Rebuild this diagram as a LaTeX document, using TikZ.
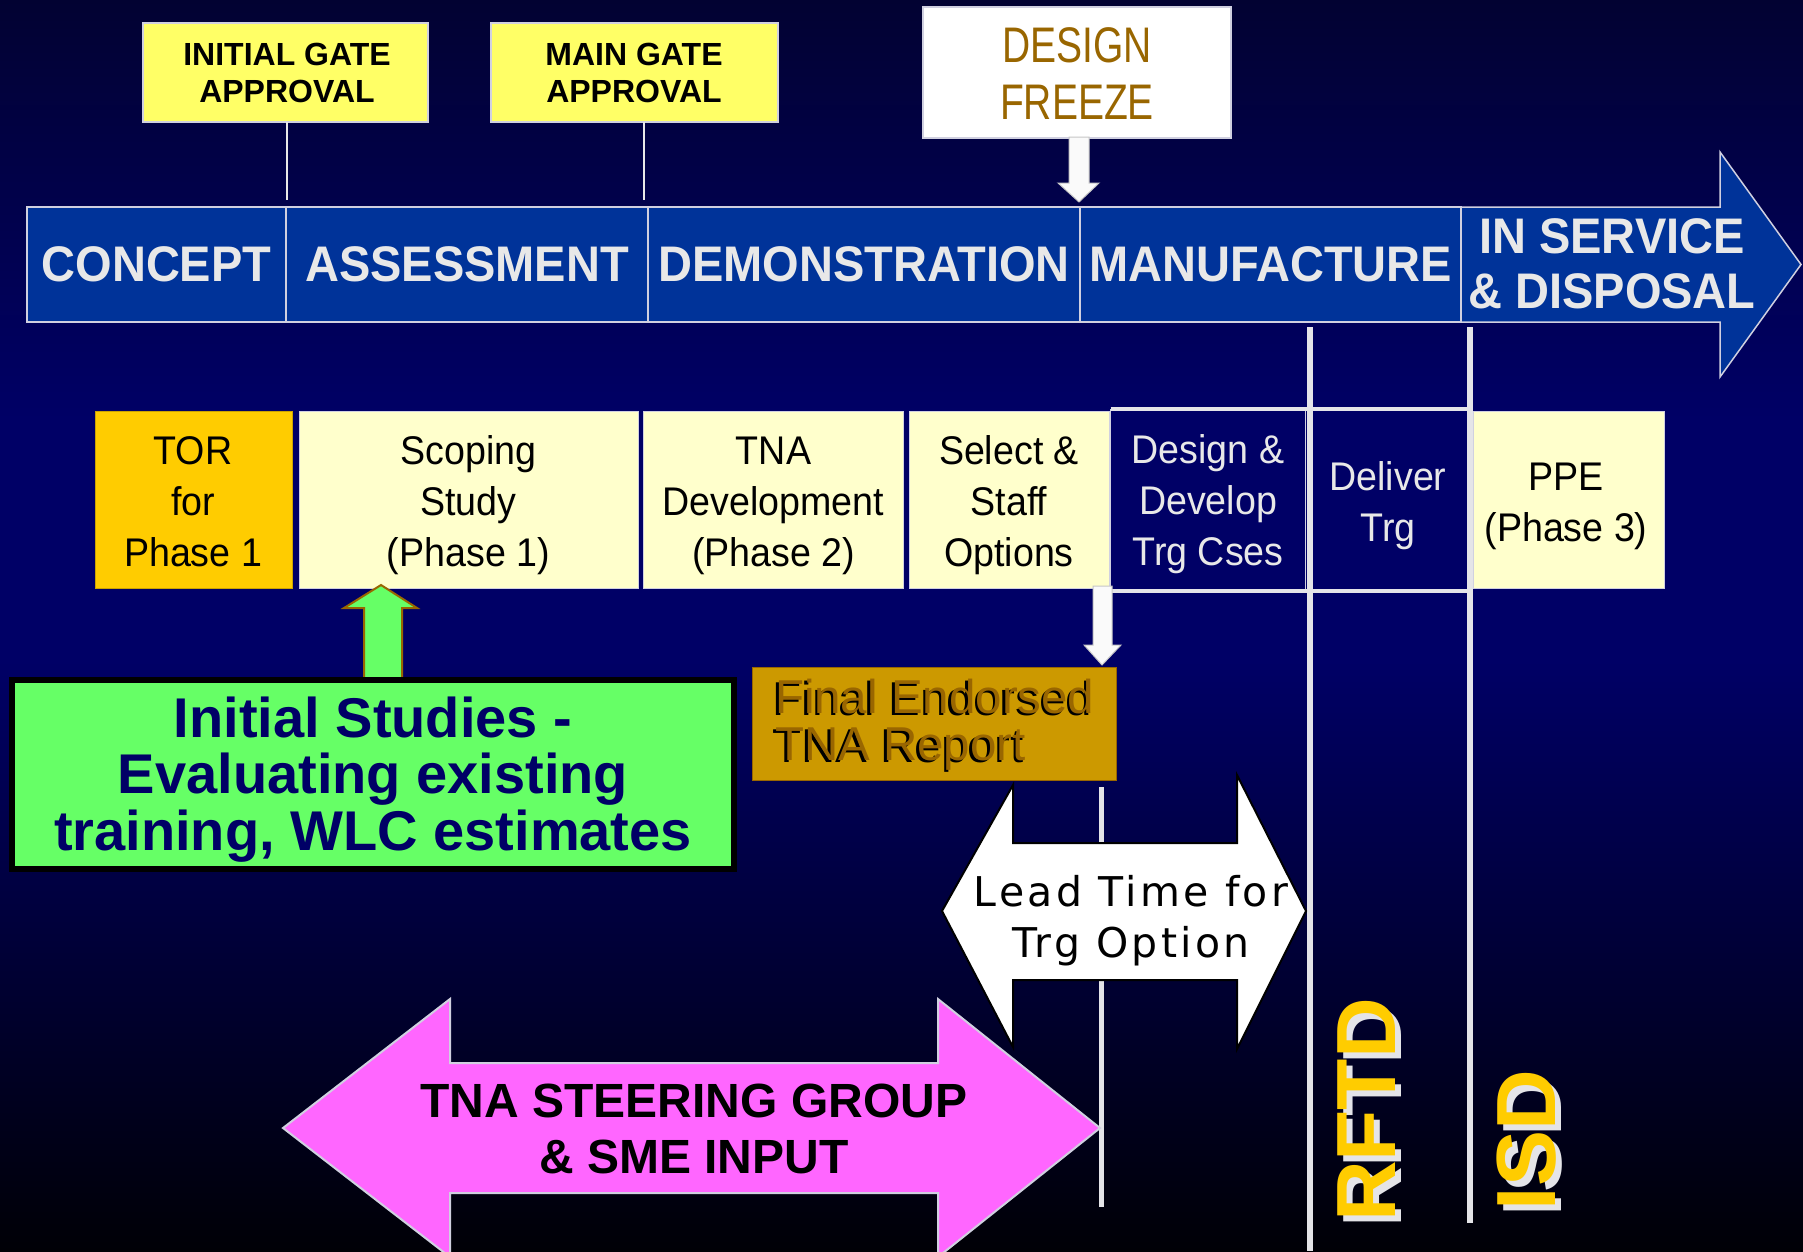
\documentclass[tikz,border=0pt]{standalone}
\usepackage{fontspec}
\setmainfont{Liberation Sans}
\newfontfamily\nsf[FakeStretch=0.94]{Liberation Sans}
\newfontfamily\csf[FakeStretch=0.78]{Liberation Sans}
\newfontfamily\vsf[LetterSpace=8]{DejaVu Sans}
\usetikzlibrary{calc}
\definecolor{bgtop}{RGB}{2,2,50}
\definecolor{bgmid}{RGB}{0,0,102}
\definecolor{bgbot}{RGB}{0,0,6}
\definecolor{barblue}{RGB}{0,51,153}
\definecolor{navycell}{RGB}{0,0,102}
\definecolor{linegrey}{RGB}{208,208,224}
\definecolor{textwhite}{RGB}{232,232,232}
\definecolor{gateyellow}{RGB}{255,255,102}
\definecolor{paleyellow}{RGB}{255,255,204}
\definecolor{torange}{RGB}{255,204,0}
\definecolor{finalgold}{RGB}{204,153,0}
\definecolor{brownt}{RGB}{153,102,0}
\definecolor{lgreen}{RGB}{102,255,102}
\definecolor{pinkm}{RGB}{255,102,255}
\definecolor{navytext}{RGB}{0,0,102}
\definecolor{gridgrey}{RGB}{228,228,232}
\newcommand\myrl[1]{\rule{0pt}{#1pt}}
\begin{document}
\begin{tikzpicture}[x=1pt,y=-1pt,
  every node/.style={inner sep=0pt, outer sep=0pt},
  gatebox/.style={draw=linegrey, line width=1.5pt, fill=gateyellow, minimum width=#1, minimum height=99pt},
  gatetext/.style={anchor=north, align=center, font=\bfseries\fontsize{32}{37}\selectfont},
  seg/.style={draw=linegrey, line width=1.5pt, fill=barblue, minimum height=115pt, minimum width=#1,
    text=textwhite, font=\nsf\bfseries\fontsize{50}{55}\selectfont},
  phase/.style={draw=linegrey, line width=1pt, fill=#1, minimum height=177pt},
  ptext/.style={anchor=north, align=center, font=\nsf\fontsize{40}{51}\selectfont},
  gline/.style={draw=textwhite, line width=2pt},
  vline/.style={draw=gridgrey, line width=6pt},
  hline/.style={draw=gridgrey, line width=4.5pt},
  whitearrow/.style={fill=white!96!gray, draw=gray!45, line width=1pt},
]
% background
\shade[top color=bgtop, bottom color=bgmid] (0,0) rectangle (1803,420);
\fill[bgmid] (0,419) rectangle (1803,661);
\shade[top color=bgmid, bottom color=bgbot] (0,660) rectangle (1803,1251);
\useasboundingbox (0,0) rectangle (1803,1251);

% gate boxes
\coordinate (g1end) at (287,200);
\coordinate (g2end) at (643.5,200);
\node[gatebox=285pt] (gate1) at (285.5,72.5) {};
\node[gatebox=287pt] (gate2) at (634.5,72.5) {};
\draw[gline] (gate1.south -| g1end) -- (g1end);
\draw[gline] (gate2.south -| g2end) -- (g2end);
\node[gatetext] (gate1t) at (287,41.5) {\myrl{23.5}INITIAL GATE\\APPROVAL};
\node[gatetext] (gate2t) at (634,41.5) {\myrl{23.5}MAIN GATE\\APPROVAL};

% design freeze
\node[draw=linegrey, line width=1.5pt, fill=white, minimum width=308pt, minimum height=131pt] (freeze) at (1077,72.5) {};
\node[anchor=north, align=center, text=brownt, font=\csf\fontsize{50}{57}\selectfont] (freezet) at (1077,26.5) {\myrl{35.5}DESIGN\\FREEZE};
\draw[whitearrow] (1069,137) -- (1089,137) -- (1089,183) -- (1099,183) -- (1079,202) -- (1058,183) -- (1069,183) -- cycle;

% phase bar
\node[seg=259pt] (concept) at (156.5,264.5) {CONCEPT};
\node[seg=362pt] (assess) at (467,264.5) {ASSESSMENT};
\node[seg=432pt] (demo) at (864,264.5) {DEMONSTRATION};
\node[seg=381pt] (manu) at (1270.5,264.5) {MANUFACTURE};
\draw[draw=linegrey, line width=1.5pt, fill=barblue] (manu.north east) -- (1720,207) -- (1720,152) -- (1801,264.5) -- (1720,377) -- (1720,322) -- (manu.south east) -- cycle;
\node[anchor=north, align=center, text=textwhite, font=\nsf\bfseries\fontsize{50}{55}\selectfont] (inservice) at (1612,217) {\myrl{36}IN SERVICE\\\& DISPOSAL};

% activity boxes
\node[phase=torange, draw=torange!80!black, minimum width=197pt] (tor) at (193.5,499.5) {};
\node[phase=paleyellow, minimum width=339pt] (scoping) at (468.5,499.5) {};
\node[phase=paleyellow, minimum width=260pt] (tnadev) at (773,499.5) {};
\node[phase=paleyellow, minimum width=200pt] (select) at (1009,499.5) {};
\node[phase=paleyellow, minimum width=191pt] (ppe) at (1568.5,499.5) {};
\node[draw=linegrey, line width=1pt, fill=navycell, minimum width=195pt, minimum height=182pt] (design) at (1208,500) {};
\node[fill=navycell, minimum width=157pt, minimum height=182pt] (deliver) at (1390,500) {};

% RFTD / ISD lines and grid
\coordinate (rftdtop) at (1310,327);
\coordinate (isdtop) at (1470,327);
\draw[vline] (rftdtop) -- (1310,1251);
\draw[vline] (isdtop) -- (1470,1223);
\draw[hline] (design.north west) -- (design.north west -| isdtop);
\draw[hline] (design.south west) -- (design.south west -| isdtop);

\node[ptext] (tort) at (193,434) {\myrl{30}TOR\\for\\Phase 1};
\node[ptext] (scopingt) at (468.5,434) {\myrl{30}Scoping\\Study\\(Phase 1)};
\node[ptext] (tnadevt) at (773.5,434) {\myrl{30}TNA\\Development\\(Phase 2)};
\node[ptext] (selectt) at (1009,434) {\myrl{30}Select \&\\Staff\\Options};
\node[ptext, text=textwhite] (designt) at (1208,433) {\myrl{30}Design \&\\Develop\\Trg Cses};
\node[ptext, text=textwhite] (delivert) at (1388,460) {\myrl{30}Deliver\\Trg};
\node[ptext] (ppet) at (1566,460) {\myrl{30}PPE\\(Phase 3)};

% select -> final endorsed
\draw[whitearrow] (1093,586) -- (1112,586) -- (1112,645) -- (1121,645) -- (1102,665) -- (1084,645) -- (1093,645) -- cycle;
\node[draw=brownt, line width=1pt, fill=finalgold, minimum width=364pt, minimum height=113pt] (final) at (934,723.5) {};
\node[anchor=north west, align=left, text=black, font=\fontsize{47.5}{47}\selectfont] (finalts) at (772.5,681) {\myrl{34.5}Final Endorsed\\TNA Report};
\node[anchor=north west, align=left, text=brownt, font=\fontsize{47.5}{47}\selectfont] (finalt) at (775,678.5) {\myrl{34.5}Final Endorsed\\TNA Report};

% lead time arrow
\coordinate (leadline) at (1101,787);
\draw[draw=gridgrey, line width=5pt] (leadline) -- (1101,1207);
\draw[fill=white, draw=black, line width=2pt, line join=miter]
  (942,911) -- (1013,785) -- (1013,843) -- (1237,843) -- (1237,775) -- (1306,911)
  -- (1237,1049) -- (1237,980) -- (1013,980) -- (1013,1047) -- cycle;
\node[anchor=north, align=center, text=black, font=\vsf\fontsize{41}{51}\selectfont] (leadt) at (1131,875) {\myrl{31}Lead Time for\\Trg Option};

% initial studies
\draw[fill=lgreen, draw=brownt, line width=2pt, line join=miter]
  (381,585) -- (417,608) -- (402,608) -- (402,681) -- (364,681) -- (364,608) -- (344,608) -- cycle;
\node[draw=black, line width=5.5pt, fill=lgreen, minimum width=722pt, minimum height=189pt] (initial) at (373,774.5) {};
\node[anchor=north, align=center, text=navytext, font=\bfseries\fontsize{56}{56.5}\selectfont] (initialt) at (373,695.5) {\myrl{41.5}Initial Studies -\\Evaluating existing\\training, WLC estimates};

% steering group arrow
\draw[fill=pinkm, draw=linegrey, line width=2pt, line join=miter]
  (283,1128) -- (450,999) -- (450,1063) -- (938,1063) -- (938,999) -- (1100,1128)
  -- (938,1257) -- (938,1193) -- (450,1193) -- (450,1257) -- cycle;
\node[anchor=north, align=center, text=black, font=\bfseries\fontsize{48}{56}\selectfont] (steert) at (694,1082) {\myrl{35}TNA STEERING GROUP\\\& SME INPUT};

% milestones
\node[rotate=90, anchor=base, text=gridgrey, font=\bfseries\fontsize{84}{84}\selectfont] (rftds) at (1401,1116) {RFTD};
\node[rotate=90, anchor=base, text=torange, font=\bfseries\fontsize{84}{84}\selectfont] (rftd) at (1395,1110) {RFTD};
\node[rotate=90, anchor=base, text=gridgrey, font=\bfseries\fontsize{84}{84}\selectfont] (isds) at (1561,1146) {ISD};
\node[rotate=90, anchor=base, text=torange, font=\bfseries\fontsize{84}{84}\selectfont] (isd) at (1555,1140) {ISD};
\end{tikzpicture}
\end{document}
